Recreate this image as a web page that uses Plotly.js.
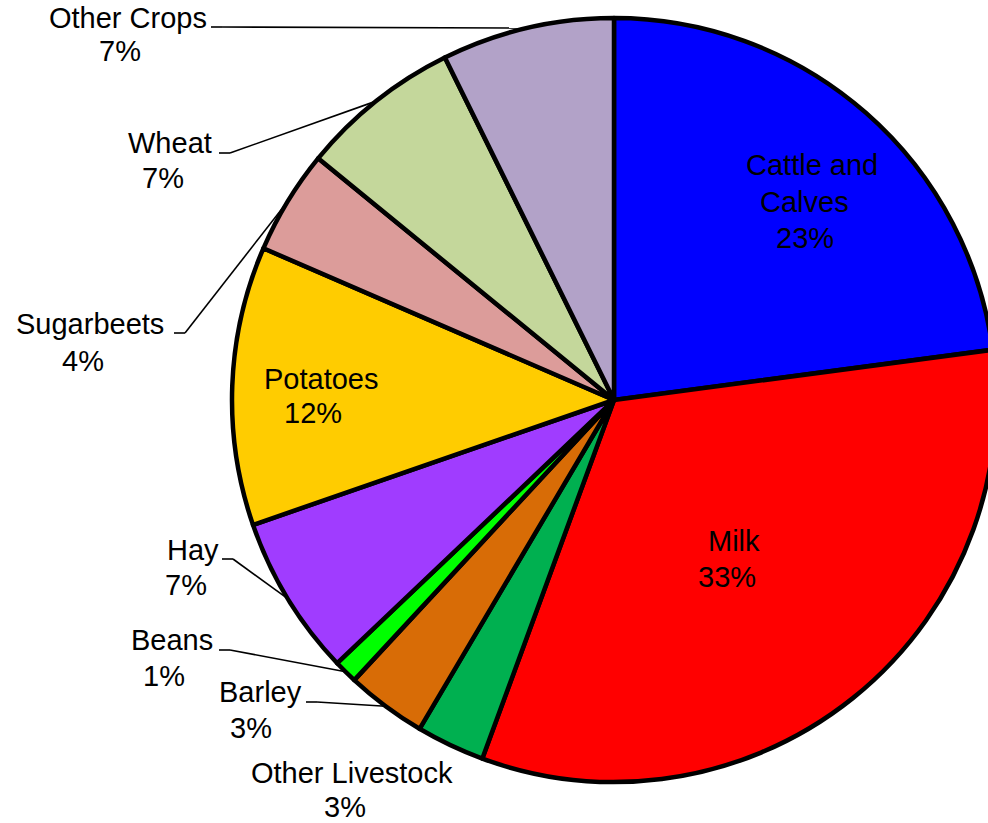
<!DOCTYPE html>
<html>
<head>
<meta charset="utf-8">
<script src="https://cdn.plot.ly/plotly-3.0.1.min.js"></script>
<style>
  html, body { margin: 0; padding: 0; overflow: hidden; background: #ffffff; }
  #chart { width: 1000px; height: 823px; }
</style>
</head>
<body>
<div id="chart"></div>
<script>
// ---- data ----
const labels = ['Cattle and Calves', 'Milk', 'Other Livestock', 'Barley', 'Beans', 'Hay', 'Potatoes', 'Sugarbeets', 'Wheat', 'Other Crops'];
const values = [22.9, 32.7, 2.9, 3.4, 1.0, 6.8, 11.8, 4.4, 6.8, 7.3];
const colors = ['#0000FF', '#FF0000', '#00B050', '#D86C06', '#00FF00', '#A03CFF', '#FFCC00', '#DC9C9A', '#C4D79B', '#B2A2C8'];

// ---- layout config (pixel placement of label text) ----
const W = 1000, H = 823;
const CX = 614, CY = 400, R = 382;
const FONT = 'Liberation Sans, Arial, sans-serif';
const FS = 29;
// each label: lines of the category name with their centres, percent-line centre, leader-line start
const labelLayout = {
  'Cattle and Calves': {names: [['Cattle and', 812, 165], ['Calves', 804, 202]], pct: [805, 238], lead: null},
  'Milk':              {names: [['Milk', 734, 541]], pct: [727, 577], lead: null},
  'Potatoes':          {names: [['Potatoes', 321, 379]], pct: [313, 413], lead: null},
  'Other Crops':       {names: [['Other Crops', 128, 18]], pct: [120, 51], lead: [211, 27]},
  'Wheat':             {names: [['Wheat', 170, 143]], pct: [163, 178], lead: [219, 153]},
  'Sugarbeets':        {names: [['Sugarbeets', 90, 324]], pct: [83, 361], lead: [174, 333]},
  'Hay':               {names: [['Hay', 193, 550]], pct: [186, 585], lead: [222, 559]},
  'Beans':             {names: [['Beans', 172, 640]], pct: [164, 676], lead: [219, 650]},
  'Barley':            {names: [['Barley', 260, 692]], pct: [251, 728], lead: [306, 702]},
  'Other Livestock':   {names: [['Other Livestock', 352, 773]], pct: [345, 807], lead: null}
};
const ELBOW = 11;

const px2x = p => p / W;
const px2y = p => 1 - p / H;

const total = values.reduce((a, b) => a + b, 0);
const annotations = [];
const shapes = [];
let cum = 0;
labels.forEach((lab, i) => {
  const frac = values[i] / total;
  const mid = (cum + frac / 2) * 2 * Math.PI;
  cum += frac;
  const cfg = labelLayout[lab];
  const pctText = Math.round(frac * 100) + '%';
  cfg.names.forEach(([t, x, y]) => {
    annotations.push({text: t, x: px2x(x), y: px2y(y), xref: 'paper', yref: 'paper',
      xanchor: 'center', yanchor: 'middle', showarrow: false,
      font: {family: FONT, size: FS, color: '#000000'}});
  });
  annotations.push({text: pctText, x: px2x(cfg.pct[0]), y: px2y(cfg.pct[1]), xref: 'paper', yref: 'paper',
    xanchor: 'center', yanchor: 'middle', showarrow: false,
    font: {family: FONT, size: FS, color: '#000000'}});
  if (cfg.lead) {
    const ex = CX + R * Math.sin(mid);
    const ey = CY - R * Math.cos(mid);
    const [lx, ly] = cfg.lead;
    const bx = Math.min(lx + ELBOW, ex);
    shapes.push({type: 'line', xref: 'paper', yref: 'paper',
      x0: px2x(lx), y0: px2y(ly), x1: px2x(bx), y1: px2y(ly),
      line: {color: '#000000', width: 1.6}});
    shapes.push({type: 'line', xref: 'paper', yref: 'paper',
      x0: px2x(bx), y0: px2y(ly), x1: px2x(ex), y1: px2y(ey),
      line: {color: '#000000', width: 1.6}});
  }
});

const trace = {
  type: 'pie',
  labels: labels,
  values: values,
  sort: false,
  direction: 'clockwise',
  rotation: 0,
  textinfo: 'none',
  hoverinfo: 'skip',
  marker: {colors: colors, line: {color: '#000000', width: 4.5}},
  domain: {x: [(CX - R) / W, (CX + R) / W], y: [(H - CY - R) / H, (H - CY + R) / H]},
  showlegend: false
};

const layout = {
  width: W, height: H,
  margin: {l: 0, r: 0, t: 0, b: 0, pad: 0},
  paper_bgcolor: '#ffffff',
  plot_bgcolor: '#ffffff',
  showlegend: false,
  annotations: annotations,
  shapes: shapes
};

Plotly.newPlot('chart', [trace], layout, {staticPlot: true, displayModeBar: false});
</script>
</body>
</html>
